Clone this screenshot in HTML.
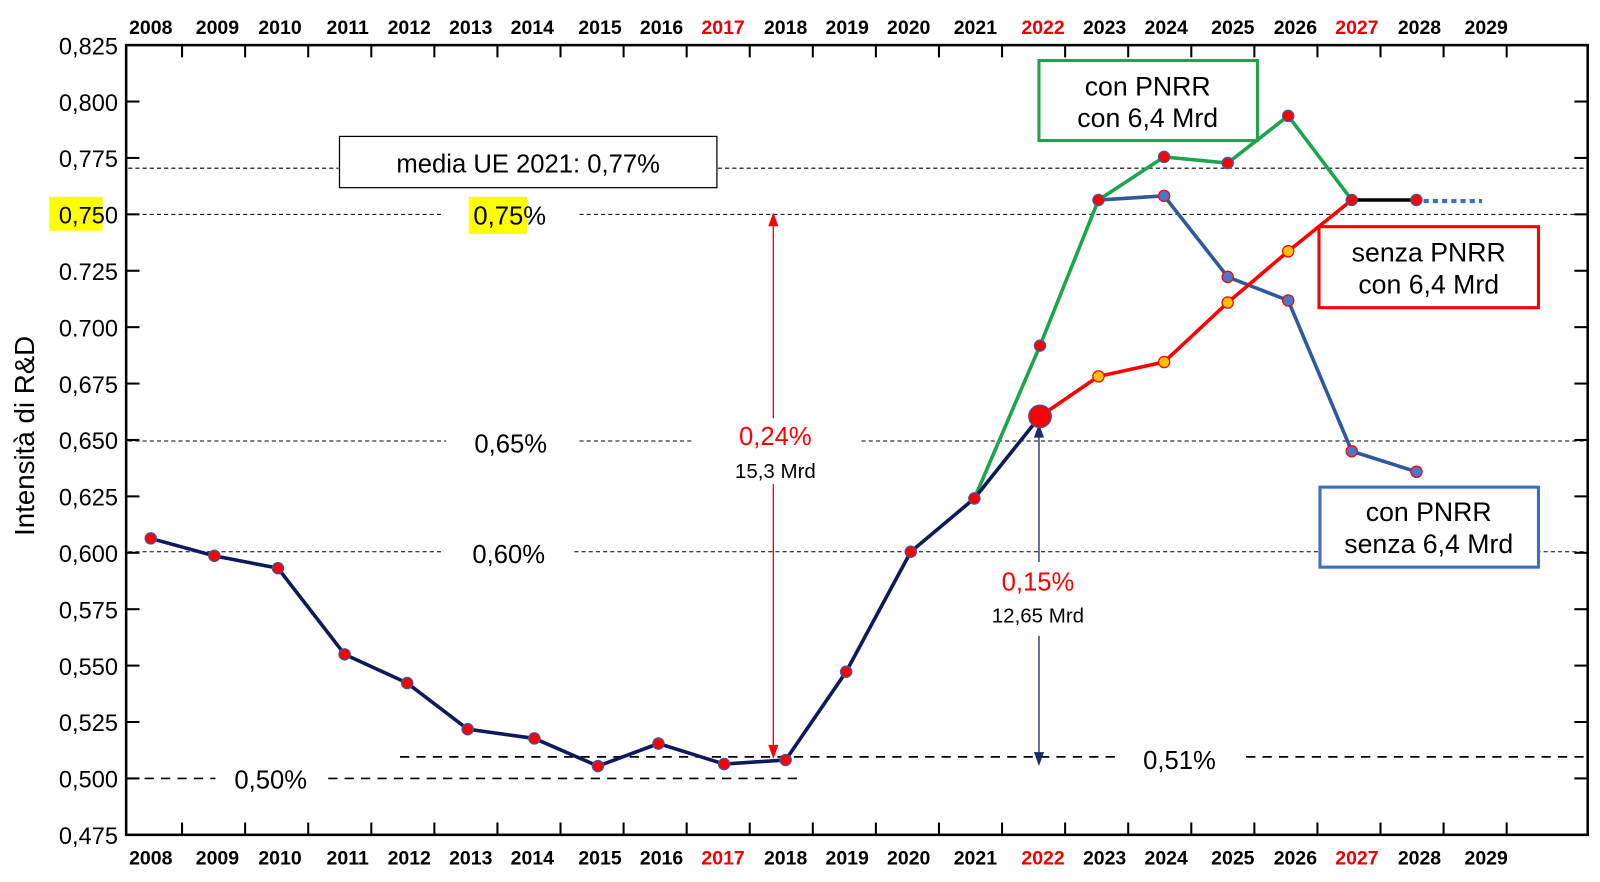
<!DOCTYPE html>
<html><head><meta charset="utf-8"><style>
html,body{margin:0;padding:0;background:#fff}
svg{display:block}
text{font-family:"Liberation Sans",sans-serif}
</style></head><body>
<svg width="1600" height="882" viewBox="0 0 1560 860" preserveAspectRatio="none" xmlns="http://www.w3.org/2000/svg">
<rect width="1560" height="860" fill="#fff"/>
<g stroke="#000" stroke-width="1" stroke-dasharray="4,3" fill="none">
<line x1="125" y1="164" x2="330" y2="164"/><line x1="700" y1="164" x2="1545" y2="164"/>
<line x1="125" y1="209" x2="430" y2="209"/><line x1="565" y1="209" x2="1545" y2="209"/>
<line x1="125" y1="430" x2="435" y2="430"/><line x1="565" y1="430" x2="675" y2="430"/><line x1="840" y1="430" x2="1545" y2="430"/>
<line x1="125" y1="538" x2="430" y2="538"/><line x1="560" y1="538" x2="1545" y2="538"/>
</g>
<g stroke="#000" stroke-width="1.6" stroke-dasharray="9,7" fill="none">
<line x1="390" y1="738" x2="1090" y2="738"/><line x1="1215" y1="738" x2="1545" y2="738"/>
<line x1="125" y1="759" x2="210" y2="759"/><line x1="320" y1="759" x2="780" y2="759"/>
</g>
<rect x="123" y="44" width="1425" height="770" fill="none" stroke="#000" stroke-width="2.5"/>
<g stroke="#000" stroke-width="2">
<line x1="123" y1="99" x2="136" y2="99"/><line x1="123" y1="154" x2="136" y2="154"/><line x1="123" y1="209" x2="136" y2="209"/><line x1="123" y1="264" x2="136" y2="264"/><line x1="123" y1="319" x2="136" y2="319"/><line x1="123" y1="374" x2="136" y2="374"/><line x1="123" y1="429" x2="136" y2="429"/><line x1="123" y1="484" x2="136" y2="484"/><line x1="123" y1="539" x2="136" y2="539"/><line x1="123" y1="594" x2="136" y2="594"/><line x1="123" y1="649" x2="136" y2="649"/><line x1="123" y1="704" x2="136" y2="704"/><line x1="123" y1="759" x2="136" y2="759"/>
<line x1="1535" y1="99" x2="1548" y2="99"/><line x1="1535" y1="154" x2="1548" y2="154"/><line x1="1535" y1="209" x2="1548" y2="209"/><line x1="1535" y1="264" x2="1548" y2="264"/><line x1="1535" y1="319" x2="1548" y2="319"/><line x1="1535" y1="374" x2="1548" y2="374"/><line x1="1535" y1="429" x2="1548" y2="429"/><line x1="1535" y1="484" x2="1548" y2="484"/><line x1="1535" y1="539" x2="1548" y2="539"/><line x1="1535" y1="594" x2="1548" y2="594"/><line x1="1535" y1="649" x2="1548" y2="649"/><line x1="1535" y1="704" x2="1548" y2="704"/><line x1="1535" y1="759" x2="1548" y2="759"/>
</g>
<g stroke="#000" stroke-width="2">
<path d="M177.5 44v12M239 44v12M300.5 44v12M362 44v12M423.5 44v12M485 44v12M546.5 44v12M608 44v12M669.5 44v12M731 44v12M792.5 44v12M854 44v12M915.5 44v12M977 44v12M1038.5 44v12M1100 44v12M1161.5 44v12M1223 44v12M1284.5 44v12M1346 44v12M1407.5 44v12M1469 44v12
M177.5 814v-12M239 814v-12M300.5 814v-12M362 814v-12M423.5 814v-12M485 814v-12M546.5 814v-12M608 814v-12M669.5 814v-12M731 814v-12M792.5 814v-12M854 814v-12M915.5 814v-12M977 814v-12M1038.5 814v-12M1100 814v-12M1161.5 814v-12M1223 814v-12M1284.5 814v-12M1346 814v-12M1407.5 814v-12M1469 814v-12"/>
</g>
<g font-size="23" text-anchor="end">
<text x="115" y="53">0,825</text><text x="115" y="108">0,800</text><text x="115" y="163">0,775</text>
<rect x="48" y="192" width="52" height="33" fill="#ffff00"/><text x="115" y="218">0,750</text>
<text x="115" y="273">0.725</text><text x="115" y="328">0.700</text><text x="115" y="383">0,675</text><text x="115" y="438">0,650</text><text x="115" y="493">0,625</text><text x="115" y="548">0,600</text><text x="115" y="603">0,575</text><text x="115" y="658">0,550</text><text x="115" y="713">0,525</text><text x="115" y="768">0,500</text><text x="115" y="823">0,475</text>
</g>
<text transform="translate(33,425) rotate(-90)" font-size="27" text-anchor="middle">Intensità di R&amp;D</text>
<g font-size="19" font-weight="bold" text-anchor="middle">
<text x="147" y="33">2008</text><text x="212" y="33">2009</text><text x="273" y="33">2010</text><text x="339" y="33">2011</text><text x="399" y="33">2012</text><text x="459" y="33">2013</text><text x="519" y="33">2014</text><text x="585" y="33">2015</text><text x="645" y="33">2016</text><text x="705" y="33" fill="#e00">2017</text><text x="766" y="33">2018</text><text x="826" y="33">2019</text><text x="886" y="33">2020</text><text x="951" y="33">2021</text><text x="1017" y="33" fill="#e00">2022</text><text x="1077" y="33">2023</text><text x="1137" y="33">2024</text><text x="1202" y="33">2025</text><text x="1263" y="33">2026</text><text x="1323" y="33" fill="#e00">2027</text><text x="1384" y="33">2028</text><text x="1449" y="33">2029</text>
<text x="147" y="843">2008</text><text x="212" y="843">2009</text><text x="273" y="843">2010</text><text x="339" y="843">2011</text><text x="399" y="843">2012</text><text x="459" y="843">2013</text><text x="519" y="843">2014</text><text x="585" y="843">2015</text><text x="645" y="843">2016</text><text x="705" y="843" fill="#e00">2017</text><text x="766" y="843">2018</text><text x="826" y="843">2019</text><text x="886" y="843">2020</text><text x="951" y="843">2021</text><text x="1017" y="843" fill="#e00">2022</text><text x="1077" y="843">2023</text><text x="1137" y="843">2024</text><text x="1202" y="843">2025</text><text x="1263" y="843">2026</text><text x="1323" y="843" fill="#e00">2027</text><text x="1384" y="843">2028</text><text x="1449" y="843">2029</text>
</g>
<rect x="331" y="133" width="368" height="50" fill="#fff" stroke="#000" stroke-width="1.2"/>
<text x="515" y="168" font-size="25" text-anchor="middle">media UE 2021: 0,77%</text>
<rect x="457" y="192" width="57" height="36" fill="#ffff00"/>
<g font-size="25" text-anchor="middle">
<text x="497" y="219">0,75%</text><text x="498" y="441">0,65%</text><text x="496" y="549">0,60%</text><text x="264" y="769">0,50%</text><text x="1150" y="750">0,51%</text>
<text x="756" y="434" fill="#f00">0,24%</text><text x="1012" y="576" fill="#f00">0,15%</text>
</g>
<g font-size="20" text-anchor="middle"><text x="756" y="466">15,3 Mrd</text><text x="1012" y="607">12,65 Mrd</text></g>
<g stroke="#f00" stroke-width="1.3" fill="#f00">
<line x1="754" y1="214" x2="754" y2="408"/><line x1="754" y1="472" x2="754" y2="733"/>
<path d="M750 220L754 209L758 220Z"/><path d="M750 727L754 738L758 727Z"/>
</g>
<g stroke="#1a2a6b" stroke-width="1.3" fill="#1a2a6b">
<line x1="1013" y1="420" x2="1013" y2="548"/><line x1="1013" y1="620" x2="1013" y2="740"/>
<path d="M1009 426L1013 415L1017 426Z"/><path d="M1009 734L1013 745L1017 734Z"/>
</g>
<rect x="1013" y="59" width="213" height="78" fill="#fff" stroke="#1aa64a" stroke-width="3"/>
<text x="1119" y="93" font-size="26" text-anchor="middle">con PNRR</text><text x="1119" y="124" font-size="26" text-anchor="middle">con 6,4 Mrd</text>
<rect x="1286" y="221" width="214" height="79" fill="#fff" stroke="#f00" stroke-width="3"/>
<text x="1393" y="255" font-size="26" text-anchor="middle">senza PNRR</text><text x="1393" y="286" font-size="26" text-anchor="middle">con 6,4 Mrd</text>
<rect x="1287" y="475" width="213" height="78" fill="#fff" stroke="#3a6ec8" stroke-width="3"/>
<text x="1393" y="508" font-size="26" text-anchor="middle">con PNRR</text><text x="1393" y="539" font-size="26" text-anchor="middle">senza 6,4 Mrd</text>
<polyline fill="none" stroke="#1aa64a" stroke-width="3.5" points="950,486 1014,337 1071,195 1135,153 1197,159 1256,113 1318,195"/>
<polyline fill="none" stroke="#2d5a9e" stroke-width="3.5" points="1071,195 1135,191 1197,270 1256,293 1318,440 1381,460"/>
<polyline fill="none" stroke="#f00" stroke-width="3.5" points="1014,406 1071,367 1135,353 1197,295 1256,245 1318,195"/>
<line x1="1318" y1="195" x2="1381" y2="195" stroke="#000" stroke-width="3.5"/>
<line x1="1388" y1="196" x2="1445" y2="196" stroke="#3a6ec8" stroke-width="4" stroke-dasharray="5,4"/>
<polyline fill="none" stroke="#0d1a5c" stroke-width="3.5" points="147,525 209,542 271,554 336,638 397,666 456,711 521,720 583,747 642,725 706,745 766,741 825,655 888,538 950,486 1014,406"/>
<g fill="#f00" stroke="#3a5aa8" stroke-width="1.2">
<circle cx="147" cy="525" r="5.5"/><circle cx="209" cy="542" r="5.5"/><circle cx="271" cy="554" r="5.5"/><circle cx="336" cy="638" r="5.5"/><circle cx="397" cy="666" r="5.5"/><circle cx="456" cy="711" r="5.5"/><circle cx="521" cy="720" r="5.5"/><circle cx="583" cy="747" r="5.5"/><circle cx="642" cy="725" r="5.5"/><circle cx="706" cy="745" r="5.5"/><circle cx="766" cy="741" r="5.5"/><circle cx="825" cy="655" r="5.5"/><circle cx="888" cy="538" r="5.5"/><circle cx="950" cy="486" r="5.5"/>
<circle cx="1014" cy="337" r="5.5"/><circle cx="1071" cy="195" r="5.5"/><circle cx="1135" cy="153" r="5.5"/><circle cx="1197" cy="159" r="5.5"/><circle cx="1256" cy="113" r="5.5"/><circle cx="1318" cy="195" r="5.5"/><circle cx="1381" cy="195" r="5.5"/>
<circle cx="1014" cy="406" r="11"/>
</g>
<g fill="#4a78c8" stroke="#f00" stroke-width="1.2">
<circle cx="1135" cy="191" r="5.5"/><circle cx="1197" cy="270" r="5.5"/><circle cx="1256" cy="293" r="5.5"/><circle cx="1318" cy="440" r="5.5"/><circle cx="1381" cy="460" r="5.5"/>
</g>
<g fill="#ffc000" stroke="#f00" stroke-width="1.2">
<circle cx="1071" cy="367" r="5.5"/><circle cx="1135" cy="353" r="5.5"/><circle cx="1197" cy="295" r="5.5"/><circle cx="1256" cy="245" r="5.5"/>
</g>
</svg>
</body></html>
